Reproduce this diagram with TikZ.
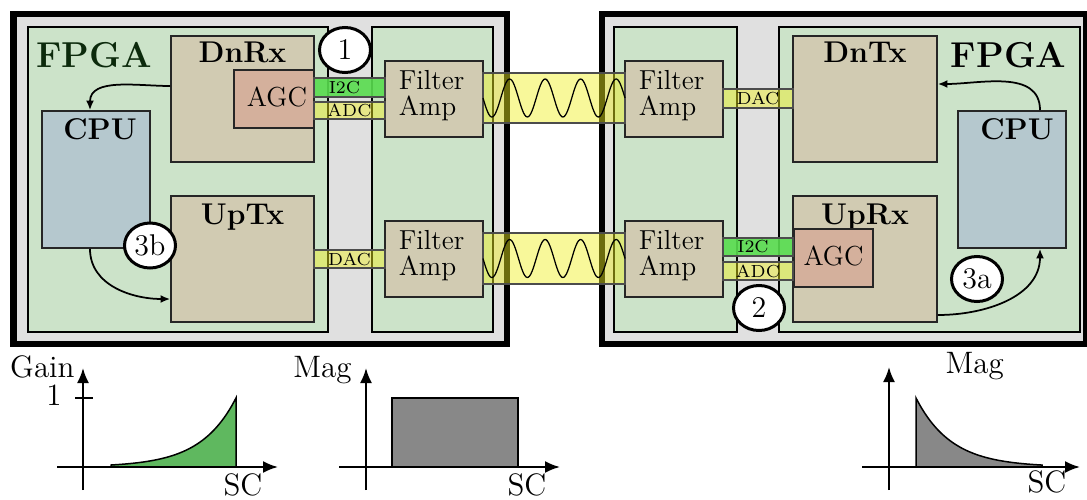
\documentclass[11pt,tikz,border=0pt]{standalone}
\usepackage{tikz}
\usetikzlibrary{arrows.meta,positioning,fit,shapes.geometric}

\definecolor{casegray}{RGB}{224,224,224}
\definecolor{boardgreen}{RGB}{204,227,201}
\definecolor{blocktan}{RGB}{209,203,178}
\definecolor{agcred}{RGB}{212,176,156}
\definecolor{cpublue}{RGB}{181,200,206}
\definecolor{busyellow}{RGB}{240,240,30}
\definecolor{i2cgreen}{RGB}{88,220,78}
\definecolor{plotgreen}{RGB}{95,184,95}
\definecolor{plotgray}{RGB}{136,136,136}
\definecolor{fpgatext}{RGB}{12,42,12}

\begin{document}
\begin{tikzpicture}[x=0.4pt,y=-0.4pt,
  casebox/.style={draw=black,line width=2.6pt,fill=casegray,inner sep=0pt},
  board/.style={draw=black,line width=1.1pt,fill=boardgreen,inner sep=0pt},
  block/.style={draw=black!85,line width=0.7pt,fill=blocktan,inner sep=0pt},
  agc/.style={block,fill=agcred},
  cpu/.style={block,fill=cpublue},
  blocktext/.style={inner sep=0pt,font=\fontsize{11}{10.4}\selectfont},
  amptext/.style={blocktext,align=left},
  blocktitle/.style={anchor=base,inner sep=0pt,font=\large\bfseries},
  bus/.style={draw=black!70,line width=0.5pt,fill=busyellow,fill opacity=0.45,inner sep=0pt},
  i2c/.style={bus,fill=i2cgreen,fill opacity=0.9},
  bustext/.style={inner sep=0pt,font=\fontsize{7}{7}\selectfont},
  stepno/.style={ellipse,draw,line width=1.2pt,fill=white,minimum width=20.4pt,minimum height=18pt,inner sep=0pt,font=\fontsize{12}{12}\selectfont},
  flow/.style={-{Latex[length=3.8pt,width=3.2pt]},line width=0.7pt},
  axisline/.style={-{Latex[length=6pt,width=4.8pt]},line width=0.85pt},
  txt/.style={inner sep=0pt,font=\fontsize{12.4}{14}\selectfont}]
\useasboundingbox (0,0) rectangle (1087,500);

\node[casebox,fit={(13.5,14) (507,344)}] (caseL) {};
\node[board,fit={(28,27) (328,332)}] (fpgaL) {};
\node[board,fit={(372,27) (493,332)}] (frontL) {};
\node[anchor=base west,inner sep=0pt,font=\Large\bfseries,text=fpgatext] (fpgaL-t) at (36,68) {FPGA};
\node[block,fit={(171,36) (314,162)}] (dnrx) {};
\node[blocktitle] (dnrx-t) at ([yshift=-10.8pt]dnrx.north) {DnRx};
\node[agc,fit={(234,70) (314,128)}] (agcL) {};
\node[blocktext,anchor=base] (agcL-t) at ([xshift=1.2pt,yshift=-2.8pt]agcL.center) {AGC};
\node[cpu,fit={(42,111) (150,248)}] (cpuL) {};
\node[blocktitle] (cpuL-t) at ([xshift=1.6pt,yshift=-11.6pt]cpuL.north) {CPU};
\node[block,fit={(171,196) (314,322)}] (uptx) {};
\node[blocktitle] (uptx-t) at ([yshift=-11.6pt]uptx.north) {UpTx};
\node[block,fit={(385,61) (483,137)}] (ampL1) {};
\node[amptext] (ampL1-t) at ([xshift=-1pt,yshift=1.2pt]ampL1.center) {Filter\\Amp};
\node[block,fit={(385,221) (483,297)}] (ampL2) {};
\node[amptext] (ampL2-t) at ([xshift=-1pt,yshift=1.2pt]ampL2.center) {Filter\\Amp};
\node[i2c,fit={(314,78) (385,97)}] (i2cL) {};
\node[bustext] (i2cL-t) at ([xshift=-2pt]i2cL.center) {I2C};
\node[bus,fit={(314,102) (385,119)}] (adcL) {};
\node[bustext] (adcL-t) at (adcL.center) {ADC};
\node[bus,fit={(314,250) (385,268)}] (dacL) {};
\node[bustext] (dacL-t) at (dacL.center) {DAC};

\node[casebox,fit={(602,14) (1086,344)}] (caseR) {};
\node[board,fit={(614,27) (737,332)}] (frontR) {};
\node[board,fit={(779,27) (1080,332)}] (fpgaR) {};
\node[anchor=base east,inner sep=0pt,font=\Large\bfseries] (fpgaR-t) at (1067,68) {FPGA};
\node[block,fit={(793,36) (937,162)}] (dntx) {};
\node[blocktitle] (dntx-t) at ([yshift=-10.8pt]dntx.north) {DnTx};
\node[block,fit={(793,196) (937,322)}] (uprx) {};
\node[blocktitle] (uprx-t) at ([yshift=-11.6pt]uprx.north) {UpRx};
\node[agc,fit={(794,229) (873,287)}] (agcR) {};
\node[blocktext,anchor=base] (agcR-t) at ([yshift=-2.8pt]agcR.center) {AGC};
\node[cpu,fit={(958,111) (1066,248)}] (cpuR) {};
\node[blocktitle] (cpuR-t) at ([xshift=2pt,yshift=-11.6pt]cpuR.north) {CPU};
\node[block,fit={(625,61) (723,137)}] (ampR1) {};
\node[amptext] (ampR1-t) at ([xshift=-1pt,yshift=1.2pt]ampR1.center) {Filter\\Amp};
\node[block,fit={(625,221) (723,297)}] (ampR2) {};
\node[amptext] (ampR2-t) at ([xshift=-1pt,yshift=1.2pt]ampR2.center) {Filter\\Amp};
\node[bus,fit={(723,89) (793,108)}] (dacR) {};
\node[bustext] (dacR-t) at (dacR.center) {DAC};
\node[i2c,fit={(723,238) (793,256)}] (i2cR) {};
\node[bustext] (i2cR-t) at ([xshift=-2pt]i2cR.center) {I2C};
\node[bus,fit={(723,262) (793,280)}] (adcR) {};
\node[bustext] (adcR-t) at (adcR.center) {ADC};

\node[bus,fit={(483,73) (625,123)}] (waveT) {};
\node[bus,fit={(483,233) (625,284)}] (waveB) {};
\draw[line width=0.5pt,domain=0:142,samples=120,smooth,variable=\t] plot ({483+\t},{98+19*sin(\t/35.5*360)});
\draw[line width=0.5pt,domain=0:142,samples=120,smooth,variable=\t] plot ({483+\t},{258.5+19*sin(\t/35.5*360)});

\draw[flow] ([yshift=5.2pt]dnrx.west) to[out=180,in=90] ([xshift=-2.4pt]cpuL.north);
\draw[flow] ([xshift=-2.4pt]cpuL.south) to[out=-90,in=180] ([yshift=-16pt]uptx.west);
\draw[flow] ([xshift=11.2pt]cpuR.north) to[out=90,in=0] ([yshift=6pt]dntx.east);
\draw[flow] ([yshift=-22.4pt]uprx.east) to[out=0,in=-90] ([xshift=11.2pt]cpuR.south);

\node[stepno] (c1) at (345,50) {1};
\node[stepno] (c2) at (759,308) {2};
\node[stepno] (c3a) at (977,279) {3a};
\node[stepno] (c3b) at (150,245.5) {3b};

\coordinate (gx0) at (57,467); \coordinate (gx1) at (278,467);
\coordinate (gy0) at (83,490); \coordinate (gy1) at (83,368);
\draw[fill=plotgreen,line width=0.6pt] (111,467) -- plot[domain=111:236,samples=60,smooth] (\x,{467-69*exp(0.0283*(\x-236))}) -- (236,467) -- cycle;
\draw[axisline] (gx0) -- (gx1);
\draw[axisline] (gy0) -- (gy1);
\draw[line width=0.85pt] (75,398) -- (93,398);
\node[txt,anchor=base east] (gain-t) at (75,377) {Gain};
\node[txt,anchor=base east] (one-t) at (62,405) {1};
\node[txt,anchor=base west] (sc1-t) at (223,495) {SC};

\coordinate (mx0) at (339,467); \coordinate (mx1) at (560,467);
\coordinate (my0) at (366,490); \coordinate (my1) at (366,368);
\draw[fill=plotgray,line width=0.6pt] (392,398) rectangle (518,467);
\draw[axisline] (mx0) -- (mx1);
\draw[axisline] (my0) -- (my1);
\node[txt,anchor=base east] (mag1-t) at (352,377) {Mag};
\node[txt,anchor=base west] (sc2-t) at (507,495) {SC};

\coordinate (rx0) at (862,467); \coordinate (rx1) at (1080,467);
\coordinate (ry0) at (889,490); \coordinate (ry1) at (889,367);
\draw[fill=plotgray,line width=0.6pt] (916,467) -- (916,398) -- plot[domain=916:1042,samples=60,smooth] (\x,{467-69*exp(-0.0283*(\x-916))}) -- (1042,467) -- cycle;
\draw[axisline] (rx0) -- (rx1);
\draw[axisline] (ry0) -- (ry1);
\node[txt,anchor=base west] (mag2-t) at (945,373) {Mag};
\node[txt,anchor=base west] (sc3-t) at (1027,492) {SC};
\end{tikzpicture}
\end{document}
